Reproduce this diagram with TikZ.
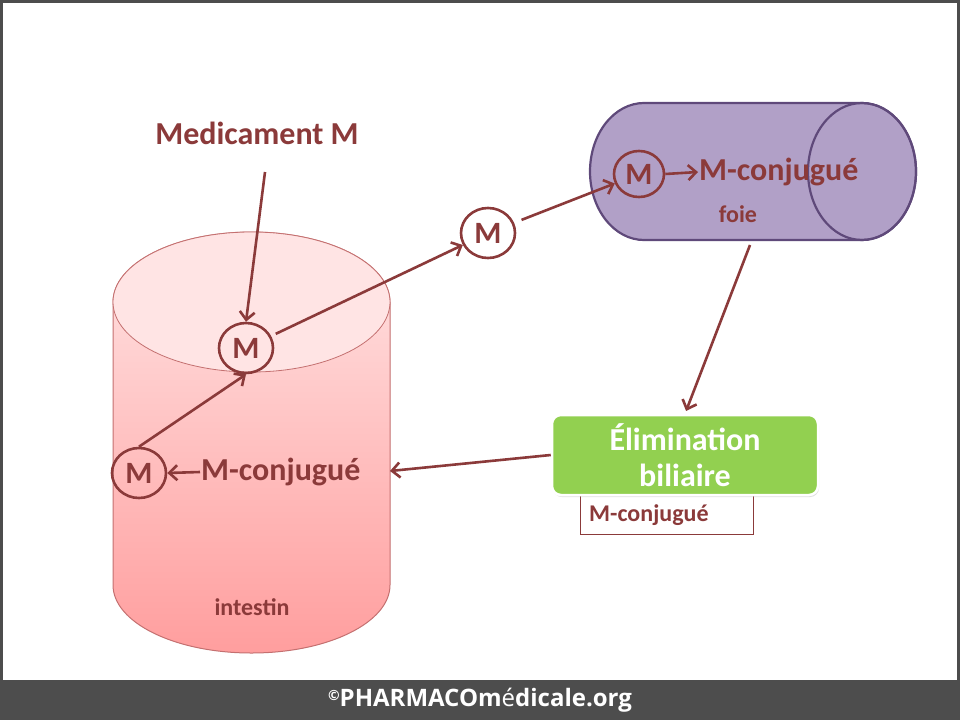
\documentclass[tikz,border=0pt]{standalone}
\usepackage{fontspec}
\setmainfont{Carlito}
\newfontfamily\footfont{Open Sans}
\usetikzlibrary{arrows.meta,shadows,shapes.geometric}
\definecolor{txtred}{RGB}{139,58,58}
\definecolor{intline}{RGB}{196,112,112}
\definecolor{inttop}{RGB}{255,228,228}
\definecolor{intbot}{RGB}{255,158,158}
\definecolor{foiefill}{RGB}{177,160,199}
\definecolor{foieline}{RGB}{95,73,122}
\definecolor{elimgreen}{RGB}{146,208,80}
\definecolor{footgray}{RGB}{77,77,77}
\tikzset{
  mcirc/.style={ellipse, draw=txtred, line width=2.6pt, text=txtred, inner sep=0pt, minimum width=54pt, minimum height=50pt, font=\bfseries\fontsize{31}{33}\selectfont},
  bigtxt/.style={text=txtred, font=\bfseries\fontsize{32}{34}\selectfont, inner sep=1pt},
  smalltxt/.style={text=txtred, font=\bfseries\fontsize{24}{26}\selectfont, inner sep=1pt},
  arr/.style={draw=txtred, line width=2.6pt, -{Straight Barb[length=8pt,width=15pt]}}
}
\begin{document}
\begin{tikzpicture}[x=1pt,y=-1pt]
% page and frame
\fill[footgray] (0,0) rectangle (960,720);
\fill[white] (3,3) rectangle (957,680);
\useasboundingbox (0,0) rectangle (960,720);
% intestin
\path[top color=inttop, bottom color=intbot, draw=intline, line width=1pt]
  (113,302) -- (113,585) arc[start angle=180, end angle=0, x radius=138.5, y radius=68]
  -- (390,302) arc[start angle=0, end angle=-180, x radius=138.5, y radius=70] -- cycle;
\draw[intline, fill=inttop, line width=0.8pt] (251.5,302) ellipse[x radius=138.5, y radius=70];
% foie
\path[fill=foiefill, draw=foieline, line width=2.2pt]
  (644,103) -- (862,103) arc[start angle=270, end angle=450, x radius=54, y radius=68.5]
  -- (644,240) arc[start angle=90, end angle=270, x radius=54, y radius=68.5] -- cycle;
\draw[foieline, line width=2.2pt] (862,171.5) ellipse[x radius=54, y radius=68.5];
% nodes
\node[bigtxt] (medic) at (257,133) {Medicament M};
\node[mcirc] (mint) at (246,348) {M};
\node[mcirc] (mmid) at (488,233) {M};
\node[mcirc] (mleft) at (139,473) {M};
\node[bigtxt, anchor=west] (conjint) at (200,472) {M-conjugué};
\node[smalltxt] (intestin) at (252,607) {intestin};
\node[mcirc, minimum width=50pt, minimum height=46pt] (mfoie) at (639,174) {M};
\node[bigtxt, anchor=west] (conjfoie) at (698,172) {M-conjugué};
\node[smalltxt] (foie) at (738,214) {foie};
\draw[txtred, line width=0.8pt] (580,494) -- (580,534) -- (753,534) -- (753,494);
\node[smalltxt, anchor=west] (conjbox) at (588,515) {M-conjugué};
\node[rectangle, rounded corners=9pt, fill=elimgreen, draw=white, line width=2.5pt,
  drop shadow={opacity=0.25, shadow xshift=1pt, shadow yshift=-2pt},
  minimum width=266pt, minimum height=80pt, align=center, text=white,
  font=\bfseries\fontsize{32}{36}\selectfont] (elim) at (685,455) {Élimination\\biliaire};
\coordinate (medtail) at (265,172);
\coordinate (foietail) at (750,245);
\coordinate (intright) at (390,471);
% connectors
\draw[arr] (medtail) -- (mint.north);
\draw[arr, shorten <=5pt] (mint) -- (mmid);
\draw[arr, shorten <=8pt] (mmid) -- (mfoie);
\draw[arr] (mfoie.east) -- (conjfoie.west);
\draw[arr] (conjint.west) -- (mleft.east);
\draw[arr] (mleft.north) -- (mint.south);
\draw[arr, shorten >=3pt] (foietail) -- (elim.north);
\draw[arr] (elim.west) -- (intright);
% footer
\node[text=white, font=\footfont\bfseries\fontsize{24}{26}\selectfont] (footer) at (480,700)
  {\raisebox{0.45ex}{\fontsize{14}{14}\selectfont ©}PHARMACOm{\mdseries é}dicale.org};
\end{tikzpicture}
\end{document}
